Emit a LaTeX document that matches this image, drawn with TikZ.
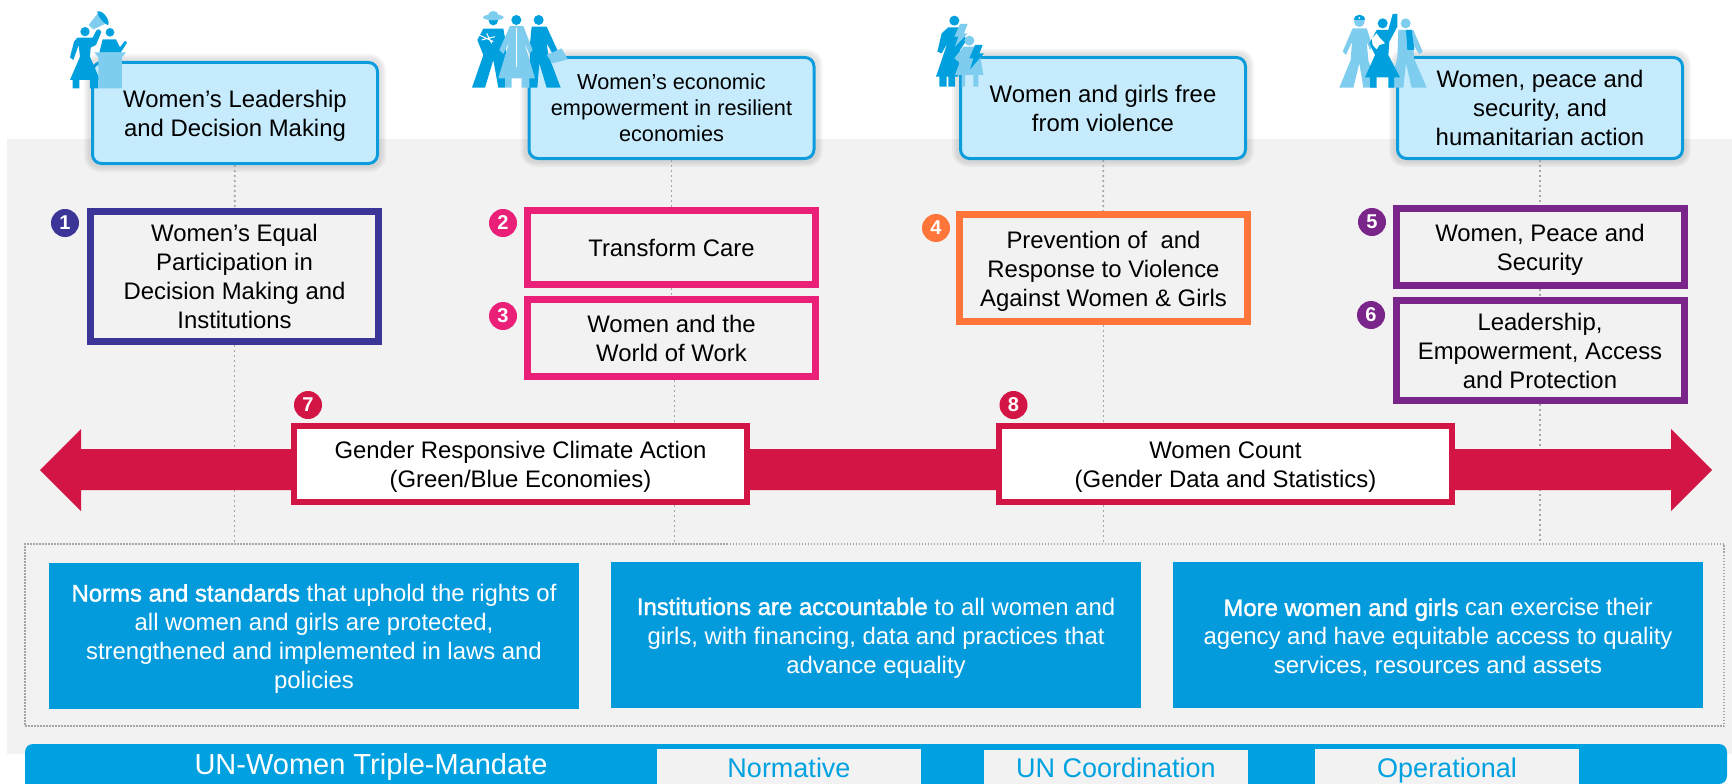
\documentclass[tikz,border=0pt]{standalone}
\usepackage{fontspec}
\setmainfont{Liberation Sans}
\newfontfamily\fakebold[FakeBold=1.6]{Liberation Sans}
\usetikzlibrary{backgrounds,positioning}

\definecolor{panelgray}{HTML}{F2F2F2}
\definecolor{headfill}{HTML}{C5EBFD}
\definecolor{headline}{HTML}{0C9CDC}
\definecolor{navyline}{HTML}{3A3596}
\definecolor{pinkline}{HTML}{E91F78}
\definecolor{orangeline}{HTML}{FF753A}
\definecolor{purpleline}{HTML}{7A2589}
\definecolor{crimson}{HTML}{D31546}
\definecolor{outcomeblue}{HTML}{049BDD}
\definecolor{barblue}{HTML}{00A1E0}
\definecolor{icondark}{HTML}{00A0DF}
\definecolor{iconlight}{HTML}{7FCDEE}
\definecolor{dotgray}{HTML}{A6A6A6}

\newcommand{\lowr}{\rule{0pt}{23pt}}

\tikzset{
  bodytext/.style={font=\fontsize{23.9}{29}\selectfont,align=center,inner sep=0pt},
  headbox/.style={bodytext,draw=headline,fill=headfill,line width=3pt,rounded corners=9pt,
    minimum width=285pt,minimum height=101pt},
  progbox/.style={bodytext,draw=#1,line width=7pt,minimum width=288pt},
  bandbox/.style={bodytext,draw=crimson,fill=white,line width=6pt,minimum width=453pt,minimum height=76pt},
  outcomebox/.style={bodytext,fill=outcomeblue,text=white,minimum width=530pt,minimum height=146pt},
  tabbox/.style={font=\fontsize{27}{30}\selectfont,fill=panelgray,text=barblue,inner sep=0pt,minimum width=264pt,text height=28pt,text depth=7pt},
  badge/.style={circle,fill=#1,text=white,inner sep=0pt,minimum size=28pt,font=\fontsize{20}{20}\selectfont\bfseries},
  dotline/.style={draw=dotgray,line width=1.8pt,dash pattern=on 2pt off 3pt},
  framedot/.style={draw=dotgray,line width=1.8pt,dash pattern=on 1.5pt off 1.5pt},
  iconshift/.style={shift={(#1,0)},x=.3333pt,y=-.3333pt}
}

\begin{document}
\begin{tikzpicture}[x=1pt,y=-1pt]
\useasboundingbox (0,0) rectangle (1732,784);

% Top row of impact areas
\node[headbox] (head1) at (235,113) {\lowr Women’s Leadership\\and Decision Making};
\node[headbox,font=\fontsize{21.7}{26}\selectfont] (head2) at (671.5,108) {Women’s economic\\empowerment in resilient\\economies};
\node[headbox] (head3) at (1103,108) {Women and girls free\\from violence};
\node[headbox] (head4) at (1540,108) {Women, peace and\\security, and\\humanitarian action};

% Programme boxes
\node[progbox=navyline,minimum height=130pt] (prog1) at (234.5,276.5) {Women’s Equal\\Participation in\\Decision Making and\\Institutions};
\node[progbox=pinkline,minimum height=74pt] (prog2) at (671.5,247.5) {Transform Care};
\node[progbox=pinkline,minimum height=77pt] (prog3) at (671.5,338) {Women and the\\World of Work};
\node[progbox=orangeline,minimum height=107pt] (prog4) at (1103.5,268) {\lowr Prevention of\ \ and\\Response to Violence\\Against Women \& Girls};
\node[progbox=purpleline,minimum height=77pt] (prog5) at (1540,247) {\lowr Women, Peace and\\Security};
\node[progbox=purpleline,minimum height=100pt] (prog6) at (1540,350.5) {Leadership,\\Empowerment, Access\\and Protection};

% Numbers
\node[badge=navyline] (num1) at (65,223) {1};
\node[badge=pinkline] (num2) at (503,223) {2};
\node[badge=pinkline] (num3) at (503,316) {3};
\node[badge=orangeline] (num4) at (936,228) {4};
\node[badge=purpleline] (num5) at (1372,222) {5};
\node[badge=purpleline] (num6) at (1371,315) {6};
\node[badge=crimson] (num7) at (308,405) {7};
\node[badge=crimson] (num8) at (1013.5,405) {8};

% Boxes on the arrow
\node[bandbox] (band1) at (520.5,464) {\lowr Gender Responsive Climate Action\\(Green/Blue Economies)};
\node[bandbox] (band2) at (1225.5,464) {\lowr Women Count\\(Gender Data and Statistics)};

% Dotted frame and outcomes
\node[framedot,minimum width=1699pt,minimum height=182pt] (frame) at (874.5,635) {};
\node[outcomebox] (outcome1) at (314,636) {\lowr{\fakebold Norms and standards} that uphold the rights of\\all women and girls are protected,\\strengthened and implemented in laws and\\policies};
\node[outcomebox] (outcome2) at (876,635) {\lowr{\fakebold Institutions are accountable} to all women and\\girls, with financing, data and practices that\\advance equality};
\node[outcomebox] (outcome3) at (1438,635) {\lowr{\fakebold More women and girls} can exercise their\\agency and have equitable access to quality\\services, resources and assets};

% Bottom bar
\fill[barblue,rounded corners=8pt] (25,784) -- (25,744) -- (1727,744) -- (1727,784) [sharp corners] -- cycle;
\node[font=\fontsize{29}{32}\selectfont,text=white,inner sep=0pt] (mandate) at (371,767) {UN-Women Triple-Mandate};
\node[tabbox] (tab1) at (789,766.5) {Normative};
\node[tabbox] (tab2) at (1116,767) {UN Coordination};
\node[tabbox] (tab3) at (1447,766.5) {Operational};

\begin{scope}[on background layer]
\fill[panelgray] (7,139) rectangle (1732,754);
% Soft edge round the head boxes
\foreach \h in {head1,head2,head3,head4}
  \foreach \w in {14,10,6}
    \draw[black,opacity=.04,line width=\w pt,rounded corners=9pt] (\h.south west) rectangle (\h.north east);
\draw[dotline] (head1) -- (prog1);
\draw[dotline] (prog1.south) -- (prog1.south |- frame.north);
\draw[dotline] (head2) -- (prog2);
\draw[dotline] (prog2) -- (prog3);
\draw[dotline] ([xshift=3pt]prog3.south) -- ([xshift=3pt]prog3.south |- frame.north);
\draw[dotline] (head3) -- (prog4);
\draw[dotline] (prog4.south) -- (prog4.south |- frame.north);
\draw[dotline] (head4) -- (prog5);
\draw[dotline] (prog5) -- (prog6);
\draw[dotline] (prog6.south) -- (prog6.south |- frame.north);
% Double arrow
\fill[crimson] (40,470) -- (81,429) -- (81,449) -- (1671,449) -- (1671,429) -- (1712,470) -- (1671,511) -- (1671,490) -- (81,490) -- (81,511) -- cycle;
\end{scope}

% Icon over head1
\begin{scope}[iconshift=40]
\fill[icondark] (135,95) circle (14) (210,97) circle (13);
\fill[icondark] (112,113) -- (158,113) -- (170,90) -- (178,88) -- (184,96) -- (168,135) -- (152,143) -- (150,170) -- (180,240) -- (90,240) -- (120,170) -- (116,135) -- (100,180) -- (90,172) -- (102,125) -- cycle;
\fill[icondark] (98,238) rectangle (118,265) (150,238) rectangle (175,265);
\fill[iconlight] (146,75) -- (172,42) -- (195,72) -- (160,88) -- cycle;
\fill[icondark] (172,34) .. controls (190,30) and (210,60) .. (205,75) .. controls (195,75) and (172,50) .. (172,34);
\fill[icondark] (188,118) -- (228,118) -- (240,142) -- (255,122) -- (261,128) -- (242,158) -- (178,158) -- cycle;
\fill[iconlight] (163,157) -- (258,157) -- (246,172) -- (246,265) -- (175,265) -- (175,172) -- cycle;
\end{scope}

% Icon over head2
\begin{scope}[iconshift=450]
\fill[icondark] (130,62) circle (14) (266,60) circle (15) (199,60) circle (15);
\fill[iconlight] (130,52) ellipse (31 and 9) (130,44) ellipse (15 and 11);
\fill[icondark] (100,86) -- (160,86) -- (168,130) -- (165,263) -- (145,263) -- (130,180) -- (105,263) -- (66,263) -- (100,165) -- (82,120) -- cycle;
\draw[white,line width=1pt] (88,105) -- (130,125) (95,120) -- (135,110) (110,100) -- (125,130);
\fill[icondark] (245,80) -- (290,80) -- (322,150) -- (310,165) -- (290,130) -- (295,165) -- (332,263) -- (290,263) -- (268,190) -- (262,263) -- (240,263) -- (240,130) -- cycle;
\fill[iconlight] (165,230) rectangle (185,263) (215,230) rectangle (238,263);
\fill[iconlight] (180,78) -- (220,78) -- (248,150) -- (238,162) -- (222,125) -- (255,235) -- (145,235) -- (178,125) -- (160,162) -- (148,150) -- cycle;
\draw[white,line width=1.5pt] (199,85) -- (199,200);
\fill[iconlight] (290,165) -- (335,145) -- (353,178) -- (308,190) -- cycle;
\end{scope}

% Icon over head3
\begin{scope}[iconshift=920]
\fill[icondark] (103,62) circle (15);
\fill[icondark] (85,82) -- (118,82) -- (140,120) -- (120,150) -- (115,230) -- (48,230) -- (82,130) -- (65,160) -- (52,155) -- (65,100) -- cycle;
\fill[icondark] (58,228) rectangle (80,260) (85,228) rectangle (105,260);
\fill[iconlight] (120,72) -- (143,72) -- (132,100) -- (143,100) -- (105,140) -- (115,110) -- (103,110) -- cycle;
\fill[iconlight] (148,122) circle (15);
\fill[iconlight] (130,140) -- (165,140) -- (182,175) -- (190,225) -- (105,225) -- (122,180) -- (115,185) -- (103,175) -- cycle;
\fill[iconlight] (125,223) rectangle (135,260) (160,223) rectangle (175,260);
\fill[icondark] (165,135) -- (188,135) -- (178,160) -- (192,160) -- (150,208) -- (160,175) -- (148,175) -- cycle;
\end{scope}

% Icon over head4
\begin{scope}[iconshift=1320]
\fill[iconlight] (257,70) circle (15);
\fill[iconlight] (235,90) -- (280,90) -- (308,155) -- (298,163) -- (280,135) -- (282,175) -- (320,263) -- (275,263) -- (258,190) -- (250,263) -- (205,263) -- (232,175) -- cycle;
\fill[icondark] (258,90) -- (275,90) -- (283,150) -- (262,150) -- cycle;
\fill[iconlight] (118,65) circle (16);
\fill[icondark] (103,60) .. controls (103,40) and (135,40) .. (135,60) -- cycle;
\fill[white] (118,54) circle (3);
\fill[iconlight] (98,85) -- (140,85) -- (158,140) -- (150,150) -- (140,125) -- (145,180) -- (170,263) -- (130,263) -- (118,190) -- (100,263) -- (58,263) -- (92,180) -- (96,125) -- (78,165) -- (68,155) -- cycle;
\fill[icondark] (188,70) circle (15);
\fill[icondark] (170,90) -- (205,90) -- (218,42) -- (232,42) -- (232,80) -- (208,125) -- (205,165) -- (240,232) -- (135,232) -- (165,165) -- (148,130) -- cycle;
\fill[icondark] (150,230) rectangle (170,263) (205,230) rectangle (222,263);
\fill[white] (155,115) -- (170,100) -- (178,112) -- (195,130) -- (178,135) -- (170,148) -- (158,135) -- cycle;
\end{scope}

\end{tikzpicture}
\end{document}
